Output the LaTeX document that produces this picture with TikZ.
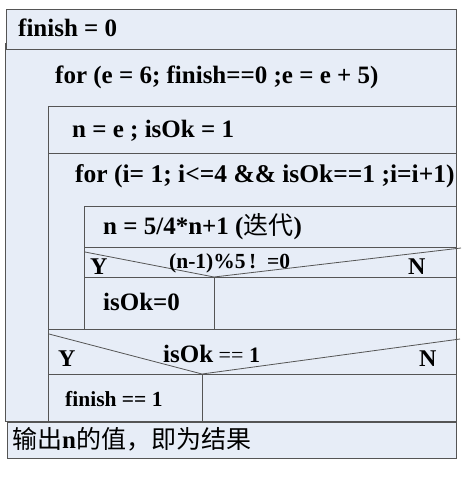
\documentclass[tikz,border=0pt]{standalone}
\usepackage{fontspec}
\setmainfont{Liberation Serif}
\newfontfamily\cjk{Noto Sans CJK SC}
\definecolor{bg}{RGB}{231,237,247}
\definecolor{ln}{RGB}{85,85,85}
\begin{document}
\begin{tikzpicture}[x=1pt,y=-1pt,
  box/.style={draw=ln,fill=bg,line width=0.9pt},
  diag/.style={draw=ln,line width=0.8pt},
  txt/.style={anchor=base west,inner sep=0pt,font=\fontsize{25}{30}\selectfont\bfseries},
  mid/.style={anchor=base west,inner sep=0pt,font=\fontsize{21.5}{25}\selectfont\bfseries},
  yn/.style={anchor=base west,inner sep=0pt,font=\fontsize{24}{28}\selectfont\bfseries}]
\useasboundingbox (0,0) rectangle (467,479);
% outer for-e loop
\draw[box] (5,43) rectangle (456,421);
\draw[box] (6,9.5) rectangle (456,49);
% body of for-e
\draw[box] (48,106) rectangle (456,153);
\draw[box] (48,153) rectangle (456,329);
% body of for-i
\draw[box] (84,206) rectangle (456,247);
\draw[box] (84,247) rectangle (456,277);
\draw[diag] (85,252) -- (214,277) -- (461,248);
\draw[box] (84,277) rectangle (214,329);
\draw[box] (214,277) rectangle (456,329);
% decision isOk == 1
\draw[box] (48,329) rectangle (456,374);
\draw[diag] (49,334) -- (202,374) -- (460,339);
\draw[box] (48,374) rectangle (202,421);
\draw[box] (202,374) rectangle (456,421);
% output
\draw[box] (7,422) rectangle (456,458);
% texts
\node[txt] (t1) at (18,36) {finish = 0};
\node[txt] (t2) at (55,83) {for (e = 6; finish==0 ;e = e + 5)};
\node[txt] (t3) at (72,137) {n = e ; isOk = 1};
\node[txt,font=\fontsize{25.5}{30}\selectfont\bfseries] (t4) at (75,182) {for (i= 1; i<=4 \&\& isOk==1 ;i=i+1)};
\node[txt] (t5) at (103,234) {n = 5/4*n+1 ({\cjk\mdseries 迭代})};
\node[mid] (t6) at (169,268) {(n-1)\%5\,!\ \ =0};
\node[yn] (y1) at (90,274) {Y};
\node[yn] (n1) at (408,274) {N};
\node[txt] (t7) at (103,310) {isOk=0};
\node[txt] (t8) at (163,362) {isOk\fontsize{22}{26}\selectfont\ {\mdseries ==} 1};
\node[yn] (y2) at (58,366) {Y};
\node[yn] (n2) at (419,366) {N};
\node[mid] (t9) at (65,406) {finish == 1};
\node[txt,font=\fontsize{25}{30}\selectfont] (t10) at (12,448) {{\cjk 输出}\textbf{n}{\cjk 的值，即为结果}};
\end{tikzpicture}
\end{document}
